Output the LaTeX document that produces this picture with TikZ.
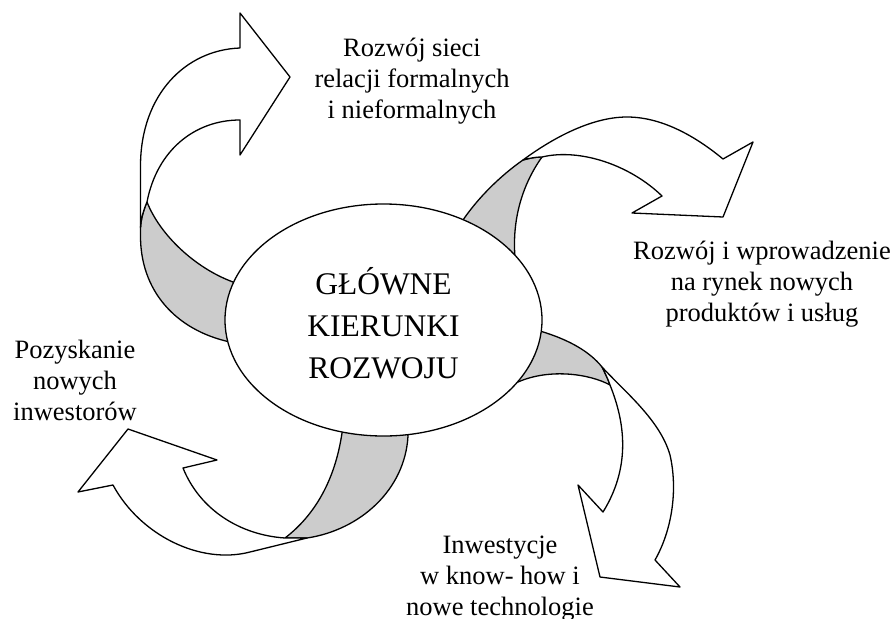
\documentclass[tikz,border=0pt]{standalone}
\usepackage{fontspec}
\setmainfont{Liberation Serif}
\usetikzlibrary{shapes.geometric}
\begin{document}
\begin{tikzpicture}[x=1pt,y=-1pt,
  edge/.style={draw=black, line width=1.3pt, line join=round},
  band/.style={edge, fill=black!20},
  body/.style={edge, fill=white},
  hub/.style={draw=black, line width=1.3pt, fill=white, ellipse, minimum width=317pt, minimum height=232pt, inner sep=0pt},
  hubtext/.style={font=\fontsize{31.5}{42}\selectfont, align=center, anchor=base, inner sep=0pt},
  lbl/.style={font=\fontsize{26.5}{31}\selectfont, align=center, anchor=base, inner sep=0pt}]
\useasboundingbox (0,0) rectangle (893,618);

% ---- arrow 1 (top-left, towards top) ----
\path[band] (240,287) -- (233,282) .. controls (195,268) and (160,235) .. (147,202)
  .. controls (144,209) and (141,218) .. (140.5,228) -- (140.5,235)
  .. controls (140,290) and (175,330) .. (230,342) -- (236,340) -- cycle;
\path[body] (140.5,228) -- (140.5,165) .. controls (141,95) and (185,50) .. (240,48)
  -- (240,13) -- (290,77) -- (240,155) -- (240,120)
  .. controls (195,120) and (157,150) .. (147,202)
  .. controls (144,209) and (141,218) .. (140.5,228) -- cycle;

% ---- arrow 2 (top-right, towards right) ----
\path[band] (467,226) -- (463,220) .. controls (478,198) and (500,176) .. (523,160)
  .. controls (530,158) and (536,157) .. (542,157)
  .. controls (522,185) and (512,220) .. (515,257) -- (510,259) -- cycle;
\path[body] (523,160) .. controls (550,140) and (590,117) .. (627,117)
  .. controls (665,117) and (700,140) .. (723,159)
  -- (753,142) -- (723,217) -- (632,213) -- (662,196)
  .. controls (630,165) and (580,148) .. (542,157)
  .. controls (536,157) and (530,158) .. (523,160) -- cycle;

% ---- arrow 3 (bottom-right, downwards) ----
\path[band] (535,333) -- (540,331) .. controls (570,340) and (590,352) .. (602,367)
  .. controls (605,373) and (608,379) .. (610,385)
  .. controls (590,374) and (550,368) .. (518,382) -- (513,380) -- cycle;
\path[body] (602,367) .. controls (625,392) and (660,420) .. (670,455)
  .. controls (678,490) and (672,530) .. (655,560)
  -- (680,587) -- (600,577) -- (578,485) -- (603,512)
  .. controls (634,462) and (622,415) .. (610,385)
  .. controls (608,379) and (605,373) .. (602,367) -- cycle;

% ---- arrow 4 (bottom-left, towards left) ----
\path[band] (407,431) -- (408,436) .. controls (405,490) and (360,530) .. (307,538)
  -- (285,538) .. controls (315,515) and (335,480) .. (342,433) -- (344,428) -- cycle;
\path[body] (307,538) -- (250,552) .. controls (200,565) and (140,535) .. (113,485)
  -- (78,492) -- (128,429) -- (217,460) -- (183,468)
  .. controls (200,510) and (240,535) .. (285,538) -- cycle;

% ---- centre ----
\node[hub] (hub) at (383.5,320) {};
\node[hubtext] (hubtext) at (383.5,378) {GŁÓWNE\\KIERUNKI\\ROZWOJU};

% ---- labels ----
\node[lbl] (l1) at (412,118.5) {Rozwój sieci\\relacji formalnych\\i nieformalnych};
\node[lbl] (l2) at (762,321) {Rozwój i wprowadzenie\\na rynek nowych\\produktów i usług};
\node[lbl] (l3) at (75,420) {Pozyskanie\\nowych\\inwestorów};
\node[lbl] (l4) at (500,615) {Inwestycje\\w know- how i\\nowe technologie};
\end{tikzpicture}
\end{document}
